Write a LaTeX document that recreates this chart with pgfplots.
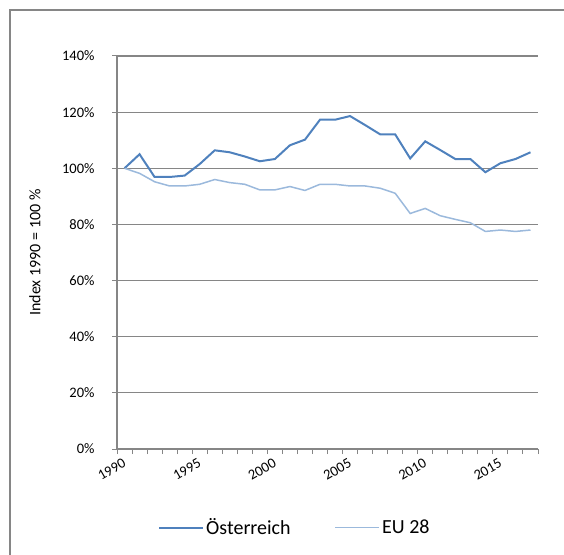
\documentclass[border=0pt]{standalone}
\usepackage{fontspec}
\setmainfont{Carlito}
\usepackage{pgfplots}
\pgfplotsset{compat=1.18}
\definecolor{atblue}{RGB}{79,129,189}
\definecolor{eublue}{RGB}{155,185,220}
\definecolor{framegray}{RGB}{134,134,134}
\begin{document}
\begin{tikzpicture}[x=1pt,y=1pt]
\useasboundingbox (0,0) rectangle (564,554);
\draw[framegray, line width=1.2pt] (10,-20) rectangle (600,544);
\begin{axis}[
  at={(117pt,105pt)}, anchor=south west,
  scale only axis, width=421pt, height=393pt,
  xmin=1989.5, xmax=2017.5,
  ymin=0, ymax=140,
  axis x line=bottom, axis y line=left,
  axis line style={framegray, line width=1.2pt, -},
  xtick={1989.5,1990.5,...,2017.5}, xticklabels={},
  extra x ticks={1990,1995,2000,2005,2010,2015},
  extra x tick labels={1990,1995,2000,2005,2010,2015},
  extra x tick style={major tick length=0pt,
    xticklabel style={rotate=30, anchor=north east, xshift=-3pt, yshift=-3pt}},
  ytick={0,20,...,140},
  yticklabel={\pgfmathprintnumber{\tick}\%},
  yticklabel style={xshift=-14pt},
  ymajorgrids,
  grid style={framegray, line width=1.2pt},
  tick style={framegray, line width=1pt},
  major tick length=5pt, tick align=outside,
  tick label style={font=\fontsize{14.5}{16}\selectfont, text=black},
  /pgf/number format/assume math mode=true,
  ylabel={Index 1990 = 100 \%},
  ylabel style={at={(axis description cs:-0.195,0.5)}, anchor=center,
    font=\fontsize{16}{18}\selectfont},
  legend columns=2,
  legend style={at={(axis description cs:0.0974,-0.2)}, anchor=west,
    draw=none, inner sep=0pt, font=\fontsize{20}{24}\selectfont,
    /tikz/every even column/.append style={column sep=42pt}},
  legend image code/.code={\draw[#1] (0pt,0pt) -- (44pt,0pt);},
]
\addplot[atblue, line width=2pt] coordinates {
(1990,100.0) (1991,105.0) (1992,96.9) (1993,96.9) (1994,97.4)
(1995,101.5) (1996,106.4) (1997,105.7) (1998,104.2) (1999,102.5)
(2000,103.3) (2001,108.2) (2002,110.2) (2003,117.3) (2004,117.3)
(2005,118.6) (2006,115.4) (2007,112.1) (2008,112.1) (2009,103.5)
(2010,109.6) (2011,106.5) (2012,103.3) (2013,103.3) (2014,98.6)
(2015,101.8) (2016,103.3) (2017,105.7)};
\addlegendentry{Österreich}
\addplot[eublue, line width=1.5pt] coordinates {
(1990,100.0) (1991,98.2) (1992,95.2) (1993,93.7) (1994,93.7)
(1995,94.3) (1996,96.0) (1997,94.9) (1998,94.3) (1999,92.3)
(2000,92.3) (2001,93.5) (2002,92.1) (2003,94.3) (2004,94.3)
(2005,93.7) (2006,93.7) (2007,92.9) (2008,91.1) (2009,83.9)
(2010,85.7) (2011,83.1) (2012,81.8) (2013,80.6) (2014,77.5)
(2015,78.0) (2016,77.5) (2017,78.0)};
\addlegendentry{EU 28}
\end{axis}
\end{tikzpicture}
\end{document}
